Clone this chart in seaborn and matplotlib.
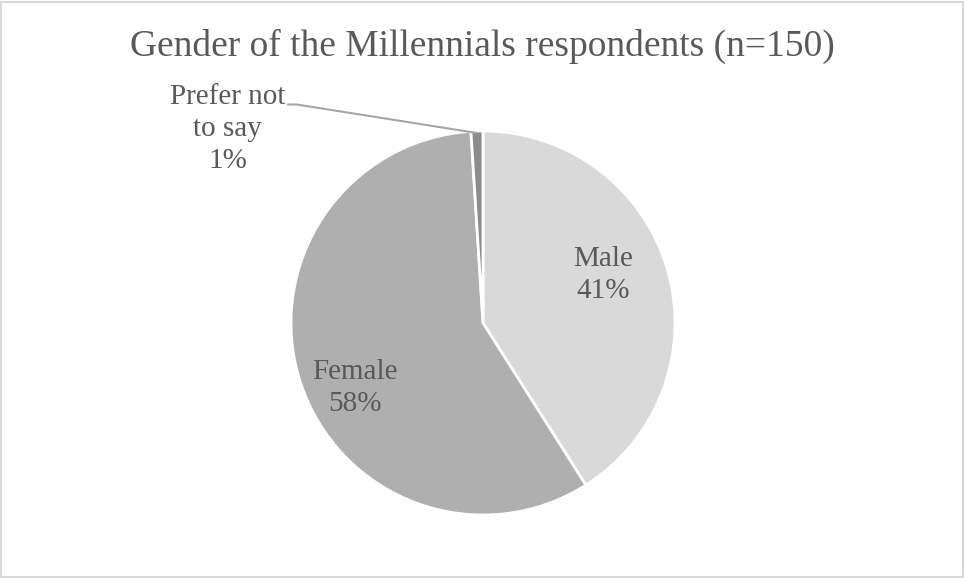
import numpy as np
import matplotlib
matplotlib.use("Agg")
import matplotlib.pyplot as plt
from matplotlib.patches import Rectangle
import seaborn as sns

# Survey data (share of respondents, %)
categories = ["Male", "Female", "Prefer not\nto say"]
shares = [41, 58, 1]
slice_colors = ["#d9d9d9", "#afafaf", "#8c8c8c"]
title_text = "Gender of the Millennials respondents (n=150)"

sns.set_theme(style="white")
plt.rcParams["font.family"] = ["Liberation Serif", "DejaVu Serif"]

W, H = 965, 578
fig = plt.figure(figsize=(W / 100, H / 100), dpi=100)
fig.patch.set_facecolor("white")

# pie placement in pixels: centre and radius
cx, cy, r = 483, 323, 192
ax = fig.add_axes([(cx - r) / W, (H - cy - r) / H, 2 * r / W, 2 * r / H])

wedges, _ = ax.pie(
    shares,
    colors=slice_colors,
    startangle=90,
    counterclock=False,
    radius=1,
    wedgeprops=dict(edgecolor="white", linewidth=2),
)
ax.set_xlim(-1, 1)
ax.set_ylim(-1, 1)
ax.set_aspect("equal")
ax.axis("off")

txt_color = "#595959"
label_pos = [(0.625, 0.25), (-0.667, -0.34), (-1.33, 1.01)]
for name, p, (tx, ty) in zip(categories, shares, label_pos):
    ax.text(tx, ty, f"{name}\n{p:.0f}%", ha="center", va="center",
            fontsize=21, color=txt_color, linespacing=1.3, clip_on=False)

# leader line for the small slice
w = wedges[2]
mid = np.deg2rad((w.theta1 + w.theta2) / 2)
tip = (np.cos(mid) * 0.99, np.sin(mid) * 0.99)
ax.plot([-1.02, -0.97, tip[0]], [1.138, 1.138, tip[1]],
        color="#a6a6a6", lw=1.5, clip_on=False, solid_capstyle="butt")

fig.text(0.5, 1 - 46 / H, title_text, ha="center", va="center",
         fontsize=27, color=txt_color)

# thin outer frame
fig.add_artist(Rectangle((0.001, 0.002), 0.997, 0.995, transform=fig.transFigure,
                         fill=False, edgecolor="#d9d9d9", lw=1.5))

fig.savefig("out.png", dpi=100)
